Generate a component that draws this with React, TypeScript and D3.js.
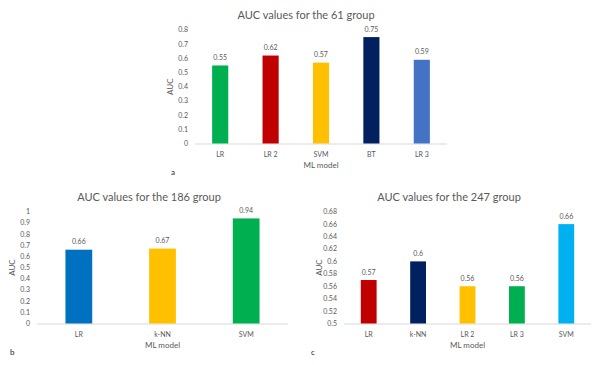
import * as d3 from 'd3';

// group 61
const modelsA = ['LR', 'LR 2', 'SVM', 'BT', 'LR 3'];
const aucA = [0.55, 0.62, 0.57, 0.75, 0.59];
const colorsA = ['#00b050', '#c00000', '#ffc000', '#002060', '#4472c4'];
const ticksA = [0, 0.1, 0.2, 0.3, 0.4, 0.5, 0.6, 0.7, 0.8];

// group 186
const modelsB = ['LR', 'k-NN', 'SVM'];
const aucB = [0.66, 0.67, 0.94];
const colorsB = ['#0070c0', '#ffc000', '#00b050'];
const ticksB = [0, 0.1, 0.2, 0.3, 0.4, 0.5, 0.6, 0.7, 0.8, 0.9, 1];

// group 247
const modelsC = ['LR', 'k-NN', 'LR 2', 'LR 3', 'SVM'];
const aucC = [0.57, 0.6, 0.56, 0.56, 0.66];
const colorsC = ['#c00000', '#002060', '#ffc000', '#00b050', '#00b0f0'];
const ticksC = [0.5, 0.52, 0.54, 0.56, 0.58, 0.6, 0.62, 0.64, 0.66, 0.68];

const FONT = 'Lato, "Open Sans", sans-serif';
const GREY = '#595959';

type PanelProps = {
  title: string;
  letter: string;
  models: string[];
  values: number[];
  colors: string[];
  ticks: number[];
  x0: number;
  x1: number;
  yTop: number;
  yBottom: number;
  letterX: number;
  titleX: number;
};

function Panel(p: PanelProps) {
  const x = d3.scaleBand().domain(p.models).range([p.x0, p.x1]).paddingInner(0.68).paddingOuter(0.34);
  const y = d3.scaleLinear()
    .domain([p.ticks[0], p.ticks[p.ticks.length - 1]])
    .range([p.yBottom, p.yTop]);
  const fmt = (v: number) => String(+v.toFixed(2));
  const midX = (p.x0 + p.x1) / 2;
  const midY = (p.yTop + p.yBottom) / 2;

  return (
    <g fontFamily={FONT}>
      <text x={p.titleX} y={p.yTop - 11} textAnchor="middle" fontSize={11} fill={GREY}>{p.title}</text>
      {p.ticks.map((t) => (
        <text key={t} x={p.x0 - 7} y={y(t)} dy="0.35em" textAnchor="end" fontSize={7} fill={GREY}>{fmt(t)}</text>
      ))}
      <line x1={p.x0} x2={p.x1} y1={p.yBottom + 0.5} y2={p.yBottom + 0.5} stroke="#d9d9d9" strokeWidth={1} />
      {p.models.map((m, i) => (
        <g key={m}>
          <rect x={x(m)!} y={y(p.values[i])} width={x.bandwidth()} height={p.yBottom - y(p.values[i])} fill={p.colors[i]} />
          <text x={x(m)! + x.bandwidth() / 2} y={y(p.values[i]) - 5.5} textAnchor="middle" fontSize={7} fill={GREY}>{fmt(p.values[i])}</text>
          <text x={x(m)! + x.bandwidth() / 2} y={p.yBottom + 13} textAnchor="middle" fontSize={7} fill={GREY}>{m}</text>
        </g>
      ))}
      <text x={midX} y={p.yBottom + 24} textAnchor="middle" fontSize={8} fill={GREY}>ML model</text>
      <text transform={`translate(${p.x0 - 22},${midY}) rotate(-90)`} textAnchor="middle" fontSize={8} fill={GREY}>AUC</text>
      <text x={p.letterX} y={p.yBottom + 31} fontSize={8} fill="#222">{p.letter}</text>
    </g>
  );
}

export default function App() {
  return (
    <svg width={600} height={365} style={{ position: 'absolute', left: 0, top: 0, background: '#fff' }}>
      <rect width={600} height={365} fill="#fff" />
      <Panel title="AUC values for the 61 group" letter="a" models={modelsA} values={aucA} colors={colorsA}
        ticks={ticksA} x0={195} x1={447} yTop={30} yBottom={143.5} letterX={171} titleX={306} />
      <Panel title="AUC values for the 186 group" letter="b" models={modelsB} values={aucB} colors={colorsB}
        ticks={ticksB} x0={37} x1={288} yTop={211.7} yBottom={323.5} letterX={10} titleX={149} />
      <Panel title="AUC values for the 247 group" letter="c" models={modelsC} values={aucC} colors={colorsC}
        ticks={ticksC} x0={344} x1={591} yTop={211.7} yBottom={323.5} letterX={311} titleX={449} />
    </svg>
  );
}
